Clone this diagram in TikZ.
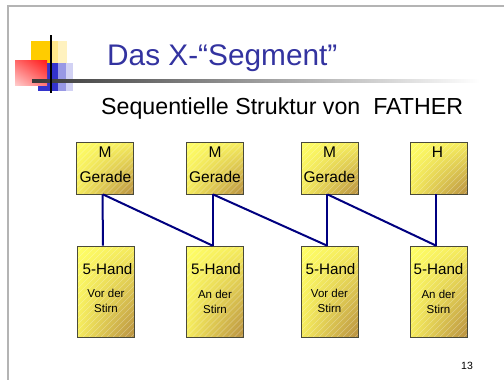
\documentclass[tikz,border=0pt]{standalone}
\usepackage{fontspec}
\setmainfont{Liberation Sans}
\usetikzlibrary{shadings}
\definecolor{navyline}{HTML}{000080}
\definecolor{titleblue}{HTML}{3333A0}
\definecolor{frame}{HTML}{B4B4B4}
\definecolor{boxedge}{HTML}{4A4A3A}
\definecolor{yl}{HTML}{FFFF66}
\definecolor{ym}{HTML}{F6EC5E}
\definecolor{yd}{HTML}{B89040}
\definecolor{logoyellow}{HTML}{FFCC00}
\definecolor{logoblue}{HTML}{3333CC}
\begin{document}
\begin{tikzpicture}[x=1pt,y=-1pt,
  ybox/.style={draw=boxedge, line width=0.8pt, inner sep=0pt,
    upper left=yl, upper right=ym, lower left=ym, lower right=yd,
    path picture={\foreach \i in {-90,-84,...,60}
      \draw[white, opacity=0.3, line width=0.4pt]
        ([xshift=\i pt]path picture bounding box.south west) -- ++(110pt,110pt);}},
  topbox/.style={ybox, minimum width=57pt, minimum height=52pt},
  botbox/.style={ybox, minimum width=57pt, minimum height=91pt},
  toptext/.style={font=\fontsize{15.5}{17}\selectfont, anchor=base, inner sep=0pt},
  handtext/.style={font=\fontsize{15.2}{17}\selectfont, anchor=base, inner sep=0pt},
  smalltext/.style={font=\fontsize{11.5}{13}\selectfont, anchor=base, inner sep=0pt},
  conn/.style={draw=navyline, line width=2pt}
]
\useasboundingbox (0,0) rectangle (504,380);
\fill[white] (0,0) rectangle (504,380);
% frame
\draw[frame, line width=1.6pt] (7.7,380) -- (7.7,5.7) -- (504,5.7);
% logo
\fill[logoyellow] (31,41) rectangle (50,63);
\fill[logoyellow!45] (50,41) rectangle (58,63);
\fill[logoyellow!25] (58,41) rectangle (67,63);
\fill[logoblue] (38,63) rectangle (58,91);
\fill[logoblue!50] (58,63) rectangle (66,91);
\fill[logoblue!22] (66,63) rectangle (73,91);
\shade[upper right=red!90, upper left=red!60, lower right=red!55, lower left=red!20] (15,60) rectangle (47,85);
\shade[left color=black!78, right color=white] (32,79.6) rectangle (480,82.4);
\draw[black, line width=1.5pt] (51,35) -- (51,93);
% title
\node[anchor=base west, inner sep=0pt, text=titleblue, font=\fontsize{29.8}{33}\selectfont] (title) at (107,65) {Das X-“Segment”};
\node[anchor=base west, inner sep=0pt, font=\fontsize{23.2}{26}\selectfont] (sub) at (101,114) {Sequentielle Struktur von\ \ FATHER};
% top boxes
\node[topbox] (t1) at (105,168) {};
\node[topbox] (t2) at (215,168) {};
\node[topbox] (t3) at (329.5,168) {};
\node[topbox] (t4) at (438.5,168) {};
% bottom boxes
\node[botbox] (b1) at (105.5,291.5) {};
\node[botbox] (b2) at (215,291.5) {};
\node[botbox] (b3) at (329.5,291.5) {};
\node[botbox] (b4) at (438.5,291.5) {};
% connectors
\draw[conn] ([xshift=-2.5pt]t1.south) -- ([xshift=-2.5pt]b1.north);
\draw[conn] ([xshift=-2pt]t1.south) -- ([xshift=-2.5pt]b2.north);
\draw[conn] ([xshift=-2.5pt]t2.south) -- ([xshift=-2.5pt]b2.north);
\draw[conn] ([xshift=-2pt]t2.south) -- ([xshift=-2.5pt]b3.north);
\draw[conn] ([xshift=-2.5pt]t3.south) -- ([xshift=-2.5pt]b3.north);
\draw[conn] ([xshift=-2pt]t3.south) -- ([xshift=-2.5pt]b4.north);
\draw[conn] ([xshift=-2.5pt]t4.south) -- ([xshift=-2.5pt]b4.north);
% top texts
\node[toptext] (m1) at (105,157) {M};
\node[toptext] (g1) at (105.5,182) {Gerade};
\node[toptext] (m2) at (215,157) {M};
\node[toptext] (g2) at (215,182) {Gerade};
\node[toptext] (m3) at (329.5,157) {M};
\node[toptext] (g3) at (329.5,182) {Gerade};
\node[toptext] (h4) at (437.5,157) {H};
% bottom texts
\node[handtext] (h1) at (107.5,274) {5-Hand};
\node[smalltext] (v1) at (106,297) {Vor der};
\node[smalltext] (s1) at (106,312) {Stirn};
\node[handtext] (h2) at (216,274) {5-Hand};
\node[smalltext] (v2) at (215,298) {An der};
\node[smalltext] (s2) at (215,313) {Stirn};
\node[handtext] (h3) at (330.5,274) {5-Hand};
\node[smalltext] (v3) at (329.5,297) {Vor der};
\node[smalltext] (s3) at (329.5,312) {Stirn};
\node[handtext] (h4b) at (438.5,274) {5-Hand};
\node[smalltext] (v4) at (438.5,298) {An der};
\node[smalltext] (s4) at (438.5,313) {Stirn};
% page number
\node[anchor=base, inner sep=0pt, font=\fontsize{10.5}{12}\selectfont] (pn) at (467,369) {13};
\end{tikzpicture}
\end{document}
